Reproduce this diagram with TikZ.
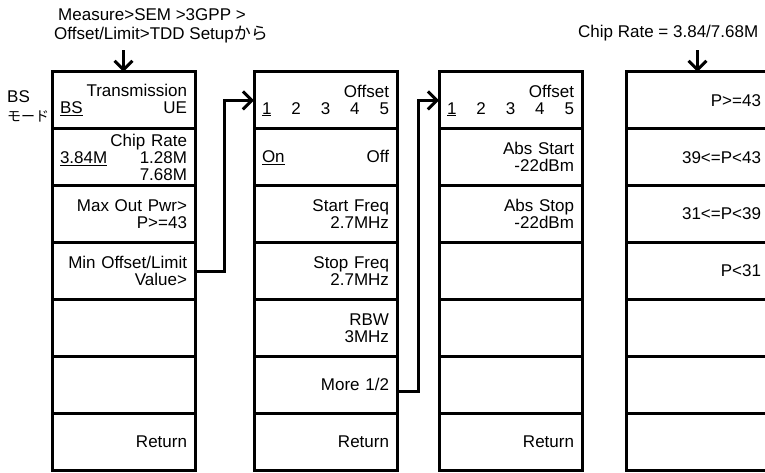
\documentclass[tikz,border=0pt]{standalone}
\usepackage{fontspec}
\setmainfont{Liberation Sans}
\newfontfamily\jpfont{Noto Sans CJK JP}
\usepackage{tikz}
\usetikzlibrary{arrows.meta}

\tikzset{
  cell/.style={draw, line width=3pt, minimum width=143pt, minimum height=56.86pt,
    text width=127pt, inner xsep=8pt, inner ysep=0pt, outer sep=0pt, align=right,
    font=\fontsize{17}{17}\selectfont},
  conn/.style={line width=3pt, -{Straight Barb[length=9pt,width=18pt]}},
  label/.style={font=\fontsize{17}{19}\selectfont, inner sep=0pt, align=left, anchor=west}
}

\begin{document}
\begin{tikzpicture}[x=1pt, y=-1pt, line cap=butt, line join=miter]

\useasboundingbox (0,0) rectangle (765,472);

% Colonna 1
\node[cell] (c1r1) at (123.5,100.4) {Transmission\\\underline{BS}\hfill UE};
\node[cell] (c1r2) at (123.5,157.3) {Chip Rate\\\underline{3.84M}\hfill 1.28M\\7.68M};
\node[cell] (c1r3) at (123.5,214.1) {Max Out Pwr>\\P>=43};
\node[cell] (c1r4) at (123.5,271.0) {Min Offset/Limit\\Value>};
\node[cell] (c1r5) at (123.5,327.9) {};
\node[cell] (c1r6) at (123.5,384.7) {};
\node[cell] (c1r7) at (123.5,441.6) {Return};

% Colonna 2
\node[cell] (c2r1) at (325.5,100.4) {Offset\\\underline{1}\hfill 2\hfill 3\hfill 4\hfill 5\hspace*{-4pt}};
\node[cell] (c2r2) at (325.5,157.3) {\underline{On}\hfill Off};
\node[cell] (c2r3) at (325.5,214.1) {Start Freq\\2.7MHz};
\node[cell] (c2r4) at (325.5,271.0) {Stop Freq\\2.7MHz};
\node[cell] (c2r5) at (325.5,327.9) {RBW\\3MHz};
\node[cell] (c2r6) at (325.5,384.7) {More 1/2};
\node[cell] (c2r7) at (325.5,441.6) {Return};

% Colonna 3
\node[cell] (c3r1) at (510.5,100.4) {Offset\\\underline{1}\hfill 2\hfill 3\hfill 4\hfill 5\hspace*{-4pt}};
\node[cell] (c3r2) at (510.5,157.3) {Abs Start\\-22dBm};
\node[cell] (c3r3) at (510.5,214.1) {Abs Stop\\-22dBm};
\node[cell] (c3r4) at (510.5,271.0) {};
\node[cell] (c3r5) at (510.5,327.9) {};
\node[cell] (c3r6) at (510.5,384.7) {};
\node[cell] (c3r7) at (510.5,441.6) {Return};

% Colonna 4
\node[cell] (c4r1) at (697.5,100.4) {P>=43};
\node[cell] (c4r2) at (697.5,157.3) {39<=P<43};
\node[cell] (c4r3) at (697.5,214.1) {31<=P<39};
\node[cell] (c4r4) at (697.5,271.0) {P<31};
\node[cell] (c4r5) at (697.5,327.9) {};
\node[cell] (c4r6) at (697.5,384.7) {};
\node[cell] (c4r7) at (697.5,441.6) {};

% Etichette
\node[label] (path) at (54,26) {\hspace*{4pt}Measure>SEM >3GPP >\\Offset/Limit>TDD Setup{\jpfont から}};
\node[label] (mode) at (7,106) {BS\\{\jpfont\fontsize{14}{17}\selectfont モード}};
\node[label] (rate) at (578,33) {Chip Rate = 3.84/7.68M};

% Frecce
\coordinate (in1) at (123.5,50);
\coordinate (in4) at (697.5,50);
\draw[conn] (in1) -- (c1r1.north);
\draw[conn] (in4) -- (c4r1.north);
\draw[conn] (c1r4.east) -- ++(29,0) |- (c2r1.west);
\draw[conn] ([yshift=-7pt]c2r6.east) -- ++(21,0) |- (c3r1.west);

\end{tikzpicture}
\end{document}
